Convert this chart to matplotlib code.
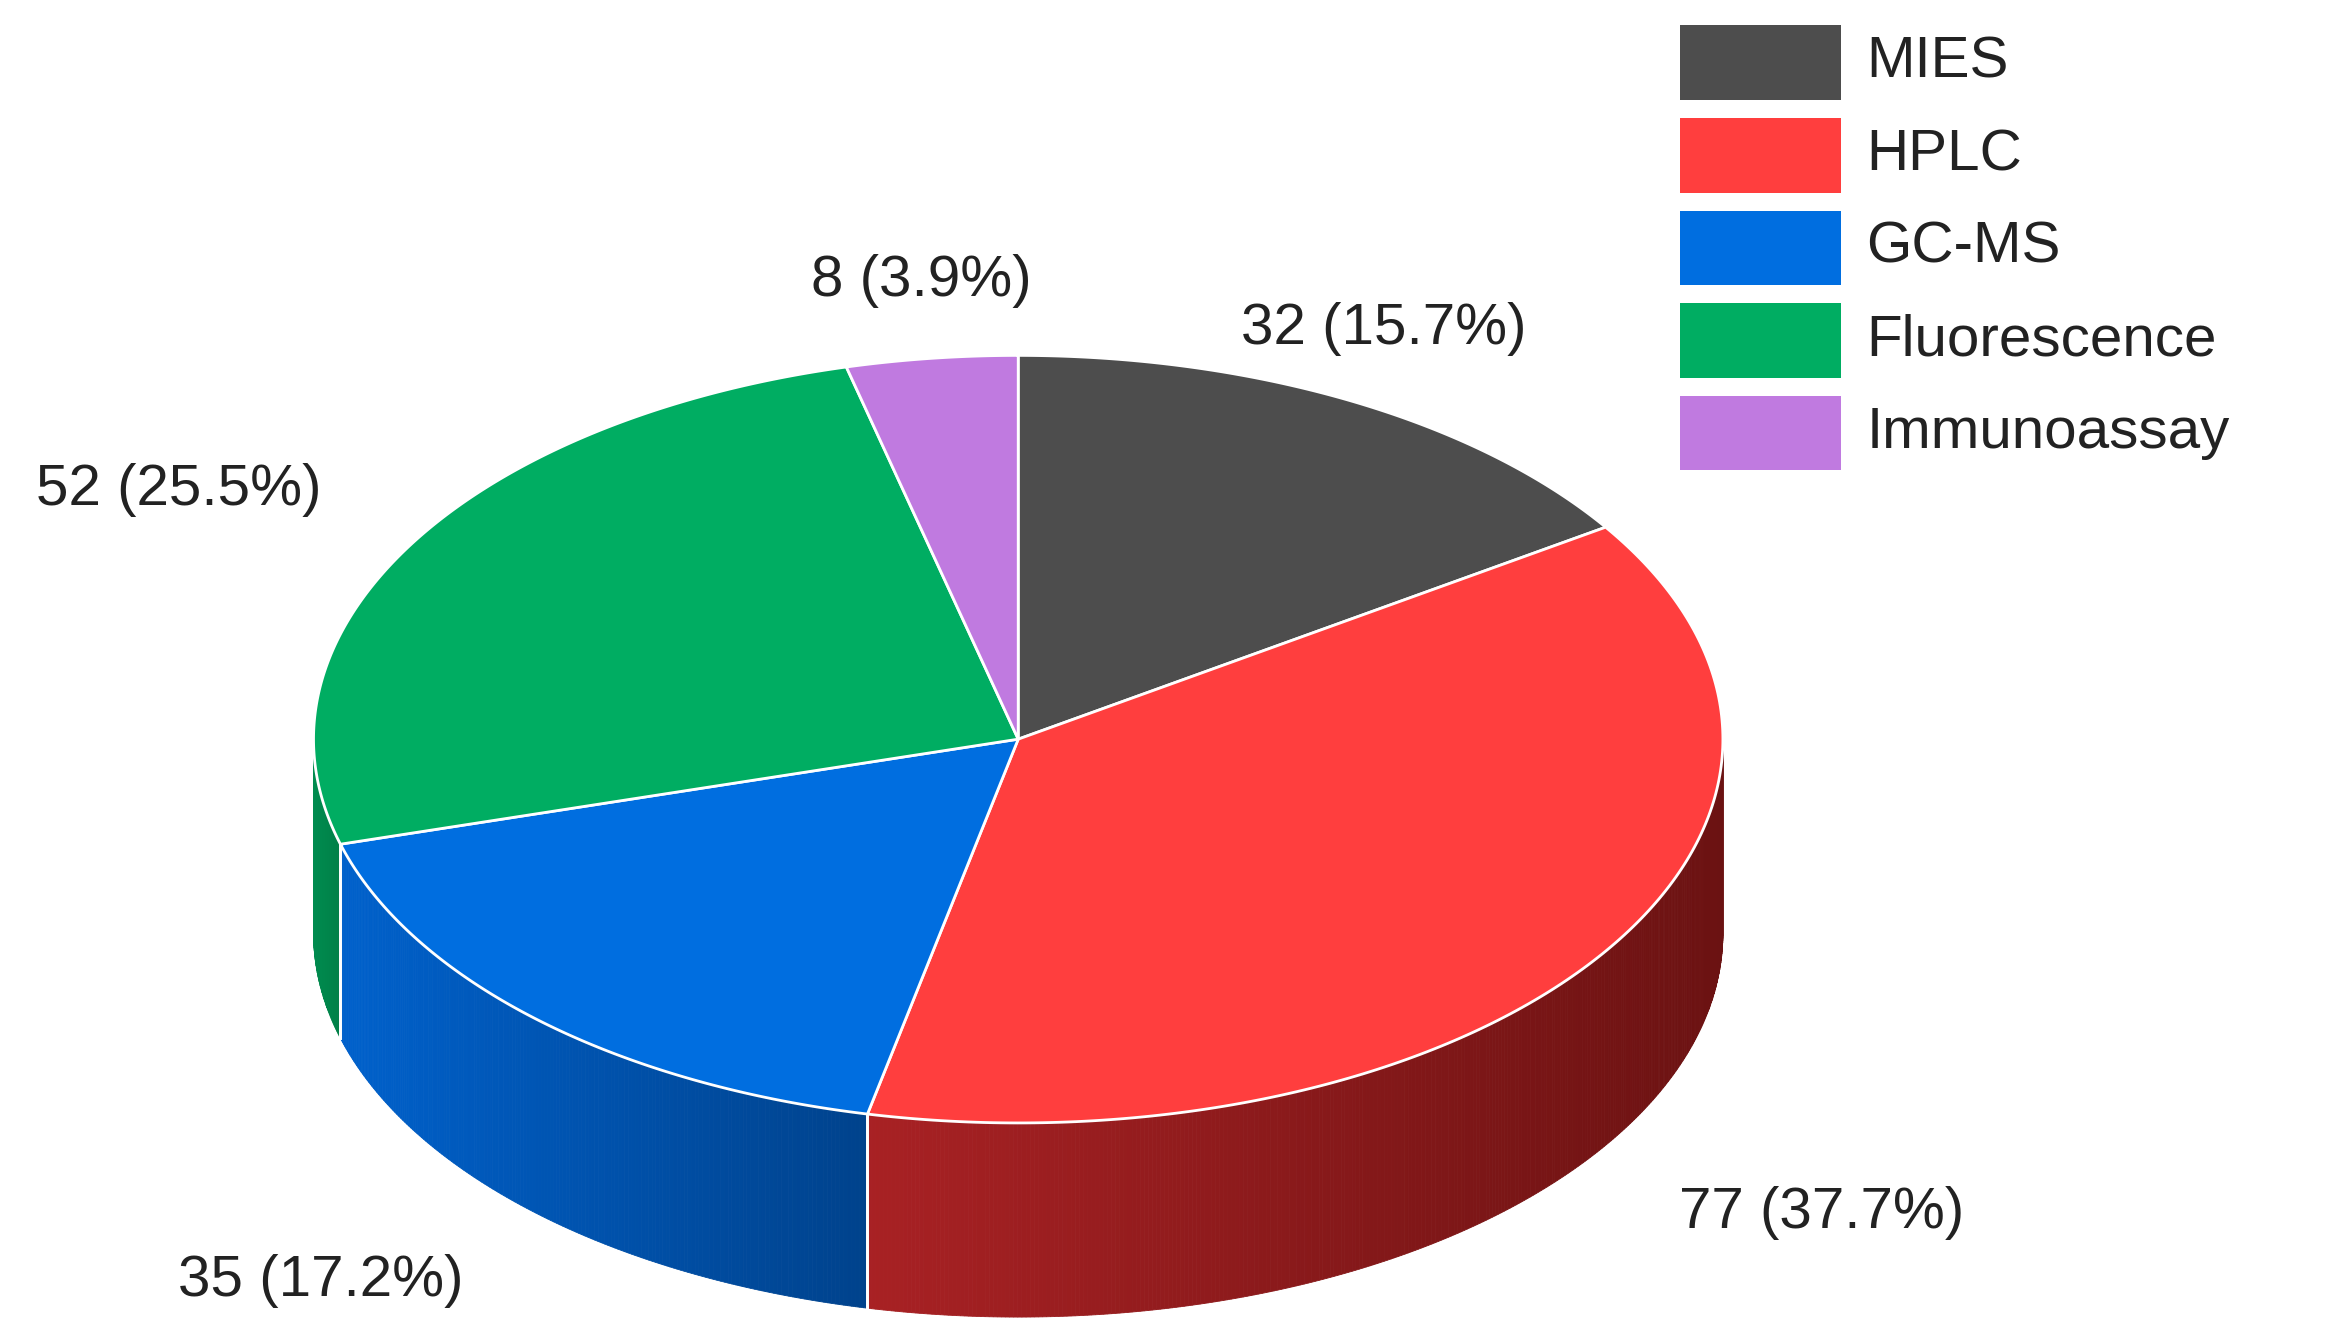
import numpy as np
import matplotlib
matplotlib.use("Agg")
import matplotlib.pyplot as plt
from matplotlib.patches import Polygon, Rectangle

categories = ["MIES", "HPLC", "GC-MS", "Fluorescence", "Immunoassay"]
values = [32, 77, 35, 52, 8]
colors = ["#4d4d4d", "#ff3e3e", "#006ee0", "#00ad62", "#c07ae0"]
side_left = [(0.25, 0.25, 0.25), (0.66, 0.13, 0.14), (0.0, 0.38, 0.80), (0.0, 0.55, 0.31), (0.6, 0.4, 0.7)]
side_right = [(0.2, 0.2, 0.2), (0.42, 0.07, 0.07), (0.0, 0.26, 0.55), (0.0, 0.50, 0.28), (0.5, 0.3, 0.6)]
label_pos = [(927, 220), (1220, 812), (215, 858), (120, 328), (617, 188)]

fig = plt.figure(figsize=(23.41, 13.32), dpi=100)
ax = fig.add_axes([0, 0, 1, 1])
ax.set_xlim(0, 1568)
ax.set_ylim(892, 0)
ax.axis("off")

cx, cy, rx, ry, D = 682, 495, 472, 257, 130
def P(t, d=0):
    r = np.radians(t)
    return cx + rx * np.cos(r), cy - ry * np.sin(r) + d

total = sum(values)
bounds = [90.0]
for v in values:
    bounds.append(bounds[-1] - 360.0 * v / total)

# sides
for i in range(len(values)):
    a1, a2 = bounds[i], bounds[i + 1]
    ts = np.linspace(a2, a1, int((a1 - a2) * 3) + 2)
    vis = [t for t in ts if np.sin(np.radians(t)) <= 1e-9]
    for t0, t1 in zip(vis[:-1], vis[1:]):
        x0, y0 = P(t0); x1, y1 = P(t1)
        f = np.clip(((x0 + x1) / 2 - 210) / (1153 - 210), 0, 1)
        # gradient within slice: normalized across its visible x-range
        xs = [P(t)[0] for t in vis]
        g = (((x0 + x1) / 2) - min(xs)) / max(1e-6, max(xs) - min(xs))
        c = tuple(np.array(side_left[i]) * (1 - g) + np.array(side_right[i]) * g)
        ax.add_patch(Polygon([(x0, y0), (x1, y1), (x1, y1 + D), (x0, y0 + D)],
                             closed=True, fc=c, ec=c, lw=0.6))
    # vertical white edges
    for t in (a1, a2):
        if np.sin(np.radians(t)) < 0:
            x, y = P(t)
            ax.plot([x, x], [y, y + D], color="white", lw=2)

# tops
for i in range(len(values)):
    a1, a2 = bounds[i], bounds[i + 1]
    ts = np.linspace(a1, a2, 200)
    pts = [(cx, cy)] + [P(t) for t in ts]
    ax.add_patch(Polygon(pts, closed=True, fc=colors[i], ec="white", lw=2, joinstyle="round"))

for i, v in enumerate(values):
    pct = 100.0 * v / total
    ax.text(*label_pos[i], f"{v} ({pct:.1f}%)", ha="center", va="center",
            fontsize=42, family="Liberation Sans", color="#222222")

for i, c in enumerate(categories):
    top = 17 + 62 * i
    ax.add_patch(Rectangle((1125, top), 108, 50, fc=colors[i], ec="none"))
    ax.text(1250, top + 25, c, ha="left", va="center", fontsize=42,
            family="Liberation Sans", color="#222222")

fig.savefig("out.png", dpi=100)
